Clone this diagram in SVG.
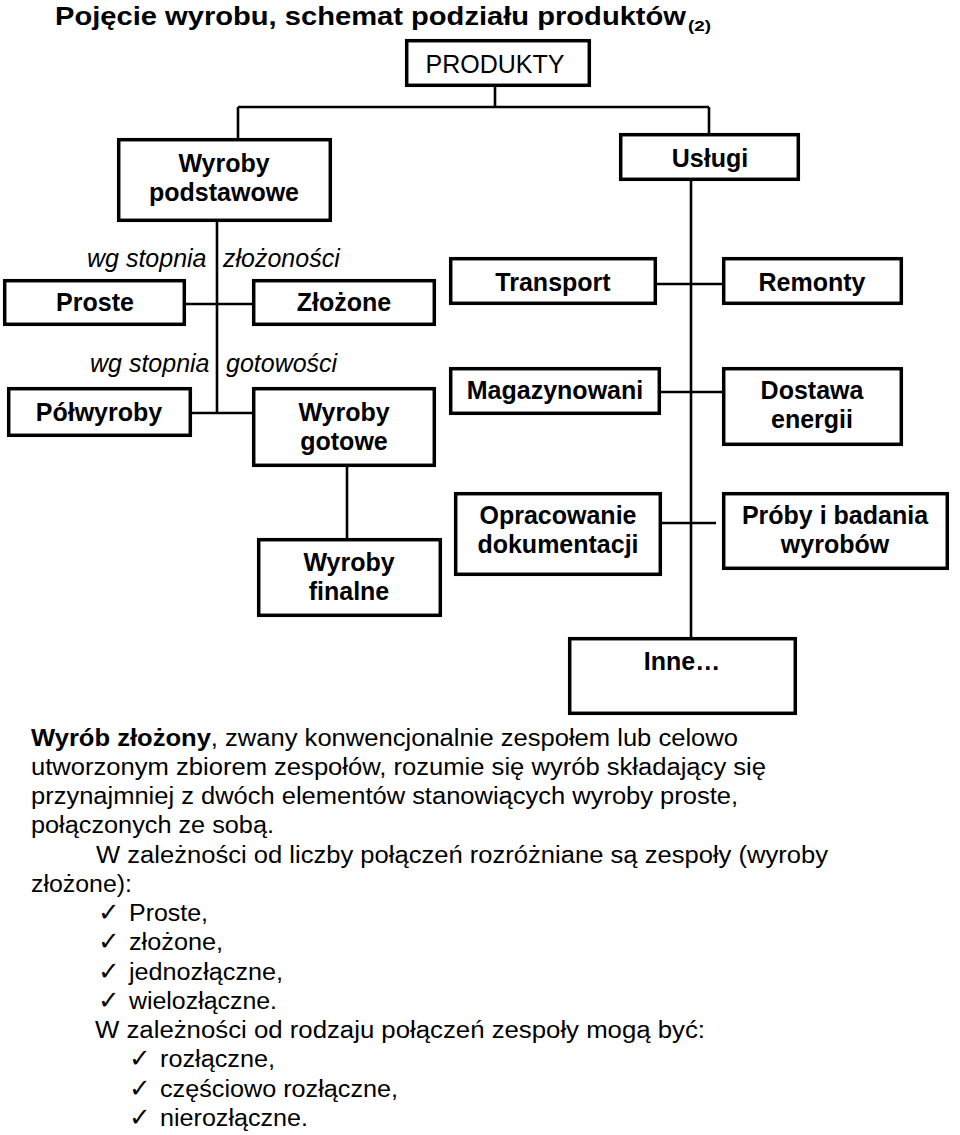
<svg xmlns="http://www.w3.org/2000/svg" width="960" height="1135" viewBox="0 0 960 1135">
<style>
.box{fill:#fff;stroke:#000;stroke-width:3.5}
.ln{stroke:#000;stroke-width:2.6;fill:none}
.nt{font-family:"Liberation Sans",Arial,sans-serif;font-size:25px;font-weight:bold;text-anchor:middle;fill:#000}
.nr{font-family:"Liberation Sans",Arial,sans-serif;font-size:25px;text-anchor:middle;fill:#000}
.it{font-family:"Liberation Sans",Arial,sans-serif;font-size:25px;font-style:italic;fill:#000}
.bt{font-family:"Liberation Sans",Arial,sans-serif;font-size:23.5px;fill:#000}
.ck{font-family:"DejaVu Sans",sans-serif;font-size:26px;fill:#000}
.ti{font-family:"Liberation Sans",Arial,sans-serif;font-weight:bold;fill:#000}
</style>
<rect width="960" height="1135" fill="#fff"/>
<text class="ti" x="55" y="25" font-size="26" textLength="631" lengthAdjust="spacingAndGlyphs">Pojęcie wyrobu, schemat podziału produktów</text>
<text class="ti" x="688" y="30.5" font-size="15" textLength="23" lengthAdjust="spacingAndGlyphs">(2)</text>

<g id="connectors">
<path class="ln" d="M495 87V107M238 107H709M238 107V138M709 107V133"/>
<path class="ln" d="M217 222V413M186 304H252M192 413H252M347 467V538"/>
<path class="ln" d="M691 181V637M657 284H722M661 392H722M662 523H716"/>
</g>

<g id="produkty"><rect class="box" x="406.7" y="40.7" width="182.6" height="44.6"/><text class="nr" x="495" y="73">PRODUKTY</text></g>
<g id="wyroby-podstawowe"><rect class="box" x="118.7" y="139.7" width="211.6" height="80.6"/><text class="nt" x="224" y="172">Wyroby</text><text class="nt" x="224" y="201">podstawowe</text></g>
<g id="uslugi"><rect class="box" x="620.7" y="134.7" width="177.6" height="44.6"/><text class="nt" x="710" y="167">Usługi</text></g>

<text class="it" x="87" y="267">wg stopnia</text>
<text class="it" x="223" y="267">złożoności</text>
<g id="proste"><rect class="box" x="4.7" y="280.7" width="179.6" height="43.6"/><text class="nt" x="95" y="311">Proste</text></g>
<g id="zlozone"><rect class="box" x="253.7" y="280.7" width="180.6" height="43.6"/><text class="nt" x="344" y="311">Złożone</text></g>
<g id="transport"><rect class="box" x="450.7" y="258.7" width="204.6" height="44.6"/><text class="nt" x="553" y="291">Transport</text></g>
<g id="remonty"><rect class="box" x="723.7" y="258.7" width="177.6" height="44.6"/><text class="nt" x="812" y="291">Remonty</text></g>

<text class="it" x="90" y="372">wg stopnia</text>
<text class="it" x="226" y="372">gotowości</text>
<g id="polwyroby"><rect class="box" x="8.7" y="388.7" width="181.6" height="46.6"/><text class="nt" x="99" y="421">Półwyroby</text></g>
<g id="wyroby-gotowe"><rect class="box" x="253.7" y="388.7" width="180.6" height="76.6"/><text class="nt" x="344" y="421">Wyroby</text><text class="nt" x="344" y="450">gotowe</text></g>
<g id="magazynowani"><rect class="box" x="450.7" y="368.7" width="208.6" height="44.6"/><text class="nt" x="555" y="399">Magazynowani</text></g>
<g id="dostawa-energii"><rect class="box" x="723.7" y="368.7" width="177.6" height="75.6"/><text class="nt" x="812" y="399">Dostawa</text><text class="nt" x="812" y="428">energii</text></g>

<g id="wyroby-finalne"><rect class="box" x="258.7" y="539.7" width="181.6" height="75.6"/><text class="nt" x="349" y="571">Wyroby</text><text class="nt" x="349" y="600">finalne</text></g>
<g id="opracowanie"><rect class="box" x="455.7" y="493.7" width="204.6" height="80.6"/><text class="nt" x="558" y="524">Opracowanie</text><text class="nt" x="558" y="553">dokumentacji</text></g>
<g id="proby"><rect class="box" x="723.7" y="493.7" width="223.6" height="74.6"/><text class="nt" x="835" y="524">Próby i badania</text><text class="nt" x="835" y="553">wyrobów</text></g>
<g id="inne"><rect class="box" x="569.7" y="638.7" width="225.6" height="74.6"/><text class="nt" x="682" y="670">Inne…</text></g>

<g id="opis">
<text class="bt" x="31" y="745.5" textLength="707" lengthAdjust="spacingAndGlyphs"><tspan font-weight="bold">Wyrób złożony</tspan>, zwany konwencjonalnie zespołem lub celowo</text>
<text class="bt" x="31" y="774.8" textLength="735" lengthAdjust="spacingAndGlyphs">utworzonym zbiorem zespołów, rozumie się wyrób składający się</text>
<text class="bt" x="31" y="804" textLength="707" lengthAdjust="spacingAndGlyphs">przynajmniej z dwóch elementów stanowiących wyroby proste,</text>
<text class="bt" x="31" y="833.3" textLength="243" lengthAdjust="spacingAndGlyphs">połączonych ze sobą.</text>
<text class="bt" x="96" y="862.5" textLength="732" lengthAdjust="spacingAndGlyphs">W zależności od liczby połączeń rozróżniane są zespoły (wyroby</text>
<text class="bt" x="31" y="891.8" textLength="101" lengthAdjust="spacingAndGlyphs">złożone):</text>
<text class="ck" x="98" y="921">✓</text><text class="bt" x="129" y="921" textLength="79" lengthAdjust="spacingAndGlyphs">Proste,</text>
<text class="ck" x="98" y="950.3">✓</text><text class="bt" x="129" y="950.3" textLength="94" lengthAdjust="spacingAndGlyphs">złożone,</text>
<text class="ck" x="98" y="979.5">✓</text><text class="bt" x="129" y="979.5" textLength="154" lengthAdjust="spacingAndGlyphs">jednozłączne,</text>
<text class="ck" x="98" y="1008.8">✓</text><text class="bt" x="129" y="1008.8" textLength="148" lengthAdjust="spacingAndGlyphs">wielozłączne.</text>
<text class="bt" x="95" y="1038" textLength="610" lengthAdjust="spacingAndGlyphs">W zależności od rodzaju połączeń zespoły mogą być:</text>
<text class="ck" x="129" y="1067.3">✓</text><text class="bt" x="160" y="1067.3" textLength="115" lengthAdjust="spacingAndGlyphs">rozłączne,</text>
<text class="ck" x="129" y="1096.5">✓</text><text class="bt" x="160" y="1096.5" textLength="238" lengthAdjust="spacingAndGlyphs">częściowo rozłączne,</text>
<text class="ck" x="129" y="1125.8">✓</text><text class="bt" x="160" y="1125.8" textLength="148" lengthAdjust="spacingAndGlyphs">nierozłączne.</text>
</g>
</svg>
